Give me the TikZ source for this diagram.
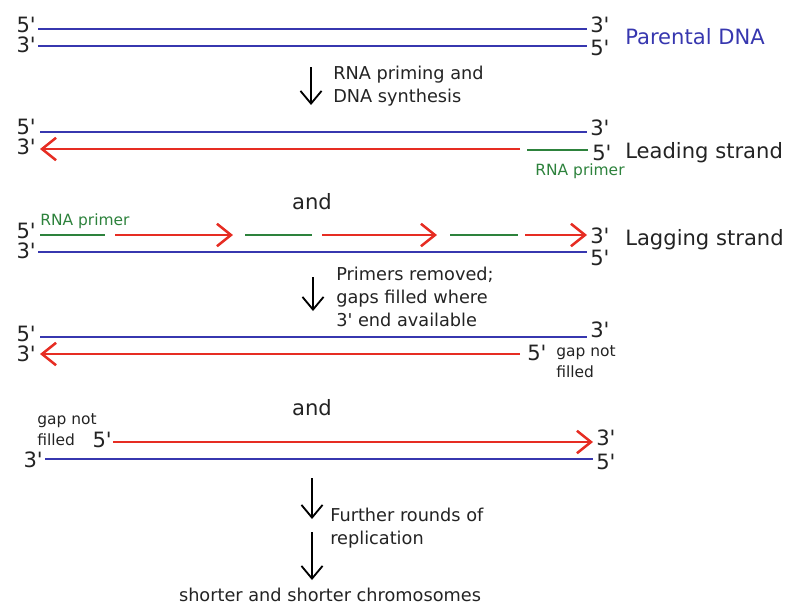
\documentclass[tikz,border=0pt]{standalone}
\usepackage{fontspec}
\setmainfont{DejaVu Sans}
\usepackage{xcolor}
\usepackage{tikz}
\usetikzlibrary{arrows.meta, positioning}

\definecolor{dnablue}{RGB}{55,55,175}
\definecolor{newred}{RGB}{230,45,35}
\definecolor{primergreen}{RGB}{45,130,60}
\definecolor{txtgray}{RGB}{35,35,35}

\newcommand{\five}{5\textquotesingle}
\newcommand{\three}{3\textquotesingle}

\tikzset{
  bluestrand/.style={draw=dnablue, line width=1.5pt},
  redstrand/.style={draw=newred, line width=1.5pt},
  redarrow/.style={redstrand, -{Straight Barb[length=10pt, width=16pt, line width=1.8pt]}},
  primer/.style={draw=primergreen, line width=1.5pt},
  stepdown/.style={draw=black, line width=1.1pt, -{Straight Barb[length=9pt, width=15pt, line width=1.3pt]}},
  endlbl/.style={font=\fontsize{15}{15}\selectfont, text=txtgray, inner sep=0pt},
  strandname/.style={font=\fontsize{15}{15}\selectfont, text=txtgray, anchor=west, inner sep=0pt},
  caption/.style={font=\fontsize{12.6}{16.5}\selectfont, text=txtgray, anchor=west, align=left, inner sep=0pt},
  smalllbl/.style={font=\fontsize{11}{15}\selectfont, text=txtgray, anchor=west, align=left, inner sep=0pt}
}

\begin{document}
\begin{tikzpicture}[x=0.025cm, y=-0.025cm]
  \useasboundingbox (0,0) rectangle (788,606);

  % Parental DNA
  \draw[bluestrand] (38,29) coordinate (pa1) -- (587,29) coordinate (pa2);
  \draw[bluestrand] (38,46) coordinate (pb1) -- (587,46) coordinate (pb2);
  \node[endlbl, anchor=east] (pa5) at (36,25) {\five};
  \node[endlbl, anchor=east] (pb3) at (36,45) {\three};
  \node[endlbl, anchor=west] (pa3) at (590,25) {\three};
  \node[endlbl, anchor=west] (pb5) at (590,48) {\five};
  \node[strandname, text=dnablue] (parental) at (625,37) {Parental DNA};

  % Step 1
  \draw[stepdown] (311,67) coordinate (s1a) -- (311,105) coordinate (s1b);
  \node[caption] (cap1) at (333,86) {RNA priming and\\DNA synthesis};

  % Leading strand
  \draw[bluestrand] (40,132) coordinate (la1) -- (587,132) coordinate (la2);
  \draw[redarrow] (520,149) coordinate (lb2) -- (40,149) coordinate (lb1);
  \draw[primer] (527,150) coordinate (lp1) -- (588,150) coordinate (lp2);
  \node[endlbl, anchor=east] (la5) at (36,127) {\five};
  \node[endlbl, anchor=east] (lb3) at (36,147) {\three};
  \node[endlbl, anchor=west] (la3) at (590,128) {\three};
  \node[endlbl, anchor=west] (lb5) at (592,153) {\five};
  \node[strandname] (leading) at (625,153) {Leading strand};
  \node[smalllbl, text=primergreen, anchor=center] (lprimer) at (580,171) {RNA primer};

  \node[strandname, anchor=center] (and1) at (312,202) {and};

  % Lagging strand
  \foreach \a/\b in {40/105, 245/312, 450/518}{
    \draw[primer] (\a,235) -- (\b,235);
  }
  \foreach \a/\b in {115/233, 322/437, 525/587}{
    \draw[redarrow] (\a,235) -- (\b,235);
  }
  \draw[bluestrand] (38,252) coordinate (ga1) -- (587,252) coordinate (ga2);
  \node[smalllbl, text=primergreen] (gprimer) at (40,221) {RNA primer};
  \node[endlbl, anchor=east] (gt5) at (36,231) {\five};
  \node[endlbl, anchor=east] (gb3) at (36,251) {\three};
  \node[endlbl, anchor=west] (gt3) at (590,236) {\three};
  \node[endlbl, anchor=west] (gb5) at (590,258) {\five};
  \node[strandname] (lagging) at (625,240) {Lagging strand};

  % Step 2
  \draw[stepdown] (313,277) coordinate (s2a) -- (313,311) coordinate (s2b);
  \node[caption] (cap2) at (336,297) {Primers removed;\\gaps filled where\\3\textquotesingle\ end available};

  % Filled leading strand
  \draw[bluestrand] (40,337) coordinate (fa1) -- (587,337) coordinate (fa2);
  \draw[redarrow] (520,354) coordinate (fb2) -- (40,354) coordinate (fb1);
  \node[endlbl, anchor=east] (fa5) at (36,334) {\five};
  \node[endlbl, anchor=east] (fb3) at (36,354) {\three};
  \node[endlbl, anchor=west] (fa3) at (590,330) {\three};
  \node[endlbl, anchor=west] (fb5) at (527,353) {\five};
  \node[smalllbl] (fgap) at (556,362) {gap not\\filled};

  \node[strandname, anchor=center] (and2) at (312,408) {and};

  % Filled lagging strand
  \draw[redarrow] (113,442) coordinate (ta1) -- (593,442) coordinate (ta2);
  \draw[bluestrand] (45,459) coordinate (tb1) -- (593,459) coordinate (tb2);
  \node[smalllbl] (tgap) at (37,430) {gap not\\filled};
  \node[endlbl, anchor=east] (ta5) at (112,440) {\five};
  \node[endlbl, anchor=east] (tb3) at (43,460) {\three};
  \node[endlbl, anchor=west] (ta3) at (596,438) {\three};
  \node[endlbl, anchor=west] (tb5) at (596,462) {\five};

  % Step 3 and result
  \draw[stepdown] (312,478) coordinate (s3a) -- (312,519) coordinate (s3b);
  \node[caption] (cap3) at (330,528) {Further rounds of\\replication};
  \draw[stepdown] (312,532) coordinate (s4a) -- (312,580) coordinate (s4b);
  \node[caption, anchor=center] (result) at (330,595) {shorter and shorter chromosomes};

\end{tikzpicture}
\end{document}
